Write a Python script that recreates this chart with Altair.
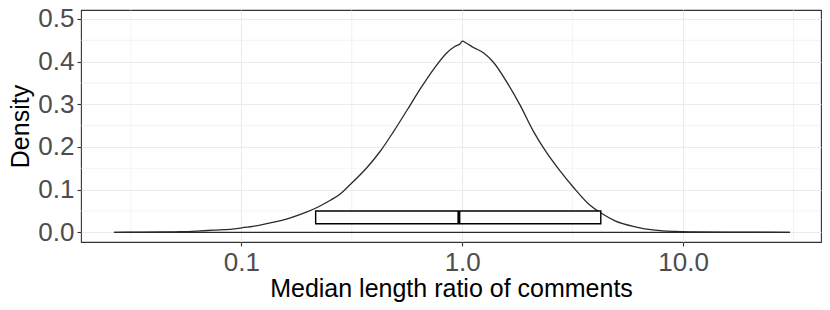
import altair as alt
import pandas as pd

# Density curve (x = median length ratio, y = density)
ratio = [0.0265, 0.0355, 0.0447, 0.053, 0.063, 0.0748, 0.0891, 0.1057, 0.1096,
         0.1352, 0.1667, 0.1982, 0.2239, 0.2529, 0.2805, 0.3112, 0.3707, 0.4256,
         0.4887, 0.5623, 0.6457, 0.7413, 0.8531, 0.929, 0.9795, 1.0, 1.047,
         1.125, 1.247, 1.387, 1.592, 1.828, 2.104, 2.415, 2.773, 3.192, 3.724,
         4.285, 4.92, 6.067, 7.464, 9.204, 11.32, 15.85, 22.39, 30.48]
density = [0.0, 0.0003, 0.0008, 0.0015, 0.003, 0.005, 0.007, 0.012, 0.013,
           0.022, 0.034, 0.048, 0.06, 0.075, 0.09, 0.112, 0.152, 0.19,
           0.236, 0.286, 0.336, 0.382, 0.421, 0.436, 0.442, 0.448, 0.443,
           0.433, 0.421, 0.398, 0.352, 0.298, 0.236, 0.186, 0.144, 0.105, 0.067,
           0.044, 0.027, 0.013, 0.005, 0.002, 0.001, 0.0003, 0.0001, 0.0]

# Boxplot summary
box_q1 = [0.217]
box_median = [0.966]
box_q3 = [4.24]
box_ymin = [0.02]
box_ymax = [0.05]

# Axis breaks
x_major = [0.1, 1.0, 10.0]
x_minor = [0.0316, 0.316, 3.162, 31.62]
y_major = [0.0, 0.1, 0.2, 0.3, 0.4, 0.5]
y_minor = [0.05, 0.15, 0.25, 0.35, 0.45]

FONT = "Liberation Sans"
xscale = alt.Scale(type="log", domain=[0.0188, 42.1], nice=False)
yscale = alt.Scale(domain=[-0.0227, 0.521], nice=False, zero=False)

xaxis = alt.Axis(values=x_major, format=".1f", title="Median length ratio of comments",
                 grid=True, gridColor="#EBEBEB", gridWidth=1.1, domain=False,
                 tickColor="#333333", tickSize=4, tickWidth=1.1,
                 labelFontSize=26, labelColor="#4D4D4D", labelFont=FONT, labelPadding=3,
                 titleFontSize=25, titleColor="#000000", titleFont=FONT,
                 titleFontWeight="normal", titleBaseline="alphabetic", titleY=54)
yaxis = alt.Axis(values=y_major, format=".1f", title="Density",
                 grid=True, gridColor="#EBEBEB", gridWidth=1.1, domain=False,
                 tickColor="#333333", tickSize=4, tickWidth=1.1,
                 labelFontSize=26, labelColor="#4D4D4D", labelFont=FONT, labelPadding=3,
                 titleFontSize=25, titleColor="#000000", titleFont=FONT,
                 titleFontWeight="normal", titleBaseline="alphabetic", titleX=-53)

def X(field, **kw):
    return alt.X(field, type="quantitative", scale=xscale, axis=xaxis, **kw)

def Y(field, **kw):
    return alt.Y(field, type="quantitative", scale=yscale, axis=yaxis, **kw)

dens_df = pd.DataFrame({"ratio": ratio, "density": density})
xminor_df = pd.DataFrame({"v": x_minor})
yminor_df = pd.DataFrame({"v": y_minor})
box_df = pd.DataFrame({"q1": box_q1, "med": box_median, "q3": box_q3,
                       "lo": box_ymin, "hi": box_ymax})
base_df = pd.DataFrame({"x1": [ratio[0]], "x2": [ratio[-1]], "y": [0.0]})

xminor = alt.Chart(xminor_df).mark_rule(color="#EBEBEB", strokeWidth=0.6).encode(x=X("v"))
yminor = alt.Chart(yminor_df).mark_rule(color="#EBEBEB", strokeWidth=0.6).encode(y=Y("v"))

curve = alt.Chart(dens_df).mark_line(color="#2a2a2a", strokeWidth=1.3,
                                     interpolate="monotone").encode(
    x=X("ratio"), y=Y("density"))
baseline = alt.Chart(base_df).mark_rule(color="#2a2a2a", strokeWidth=1.3).encode(
    x=X("x1"), x2="x2", y=Y("y"))

box = alt.Chart(box_df).mark_rect(fill="white", stroke="#000000", strokeWidth=1.4).encode(
    x=X("q1"), x2="q3", y=Y("lo"), y2="hi")
median = alt.Chart(box_df).mark_rule(color="#000000", strokeWidth=3).encode(
    x=X("med"), y=Y("lo"), y2="hi")

chart = alt.layer(xminor, yminor, baseline, curve, box, median).properties(
    width=740, height=232,
    autosize=alt.AutoSizeParams(type="none"),
    padding={"left": 73, "top": 2, "right": 1, "bottom": 60},
).configure_view(stroke="#333333", strokeWidth=1.1)

chart.save("out.html", embed_options={"renderer": "svg", "actions": False})
